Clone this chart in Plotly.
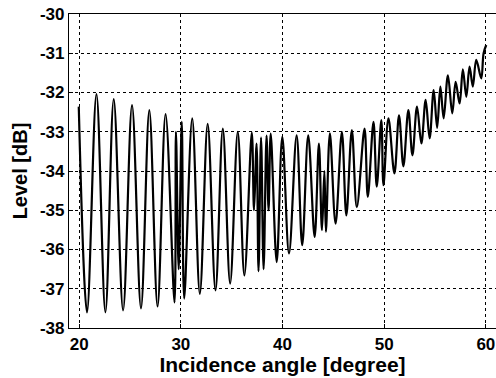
import plotly.graph_objects as go

# Incidence angle [degree] at successive turning points (peaks/troughs) of the trace
angle_deg = [19.96, 20.77, 21.70, 22.58, 23.40, 24.32, 25.20, 26.08, 26.90, 27.71,
             28.50, 29.38, 29.52, 29.79, 30.09, 30.33, 31.12, 31.87, 32.64, 33.41,
             34.13, 34.85, 35.60, 36.25, 36.98, 37.20, 37.45, 37.64, 37.89, 38.14,
             38.43, 38.63, 38.84, 39.43, 39.98, 40.64, 41.39, 41.94, 42.53, 43.16,
             43.58, 43.88, 44.12, 44.27, 44.66, 45.22, 45.84, 46.28, 46.82, 47.31,
             48.07, 48.39, 48.95, 49.27, 49.72, 49.93, 50.42, 51.01, 51.46, 51.89,
             52.38, 52.78, 53.23, 53.66, 54.08, 54.47, 54.87, 55.21, 55.53, 55.85,
             56.27, 56.70, 57.03, 57.42, 57.74, 58.08, 58.40, 58.72, 59.06, 59.55,
             59.78, 60.04]

# Level [dB] at those turning points
level_db = [-32.36, -37.60, -32.04, -37.60, -32.17, -37.55, -32.32, -37.50, -32.45, -37.45,
            -32.55, -37.35, -33.00, -36.50, -32.75, -37.25, -32.66, -37.13, -32.80, -37.04,
            -32.92, -36.87, -33.00, -36.66, -33.02, -35.00, -33.30, -36.55, -33.15, -36.50,
            -33.10, -35.00, -33.05, -36.32, -33.13, -36.10, -33.09, -35.89, -33.09, -35.68,
            -33.30, -35.51, -34.00, -35.55, -33.04, -35.34, -33.00, -35.13, -32.96, -34.92,
            -32.92, -34.66, -32.75, -34.40, -32.70, -34.36, -32.66, -34.06, -32.58, -33.88,
            -32.45, -33.60, -32.36, -33.30, -32.19, -33.17, -31.94, -32.90, -31.85, -32.66,
            -31.56, -32.53, -31.73, -32.28, -31.41, -32.11, -31.34, -31.85, -31.17, -31.64,
            -31.00, -30.79]

x_ticks = [20, 30, 40, 50, 60]
x_tick_labels = ["20", "30", "40", "50", "60"]
y_ticks = [-38, -37, -36, -35, -34, -33, -32, -31, -30]
y_tick_labels = ["-38", "-37", "-36", "-35", "-34", "-33", "-32", "-31", "-30"]

FONT = "Liberation Sans"

fig = go.Figure()
fig.add_trace(go.Scatter(
    x=angle_deg, y=level_db, mode="lines",
    line=dict(color="black", width=2.2, shape="spline", smoothing=1.0),
    showlegend=False, hoverinfo="skip",
))

axis_common = dict(
    showline=True, linecolor="black", linewidth=1.2, mirror=True,
    showgrid=True, gridcolor="black", gridwidth=0.8, griddash="3px,3px",
    zeroline=False, ticks="inside", ticklen=4, tickcolor="black",
    tickfont=dict(family=FONT, size=17, color="black", weight="bold"),
)

fig.update_layout(
    width=496, height=378,
    margin=dict(l=69, r=0, t=14, b=50),
    paper_bgcolor="white", plot_bgcolor="white",
    xaxis=dict(range=[19, 61], tickvals=x_ticks, ticktext=x_tick_labels,
               title=dict(text="<b>Incidence angle [degree]</b>", standoff=2,
                          font=dict(family=FONT, size=21, color="black")),
               **axis_common),
    yaxis=dict(range=[-38, -30], tickvals=y_ticks, ticktext=y_tick_labels,
               title=dict(text="<b>Level [dB]</b>", standoff=6,
                          font=dict(family=FONT, size=20, color="black")),
               **axis_common),
)

fig.write_html("out.html")
